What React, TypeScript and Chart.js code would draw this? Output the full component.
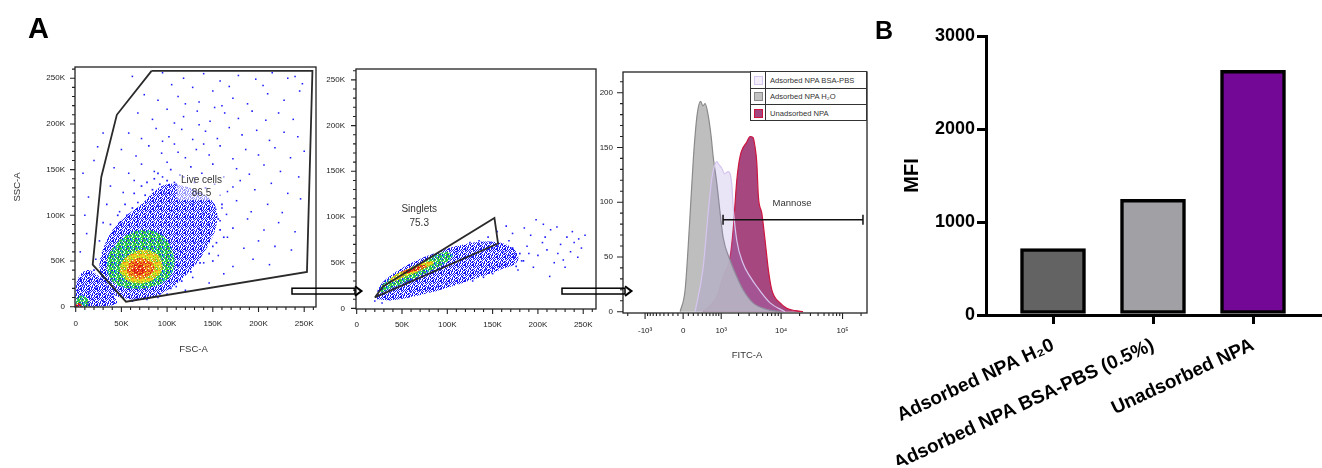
import React, { useEffect, useRef } from "react";
import { Chart, registerables } from "chart.js";

Chart.register(...registerables);

const PAGE_W = 1322;
const PAGE_H = 468;
const SANS = '"Liberation Sans", Arial, Helvetica, sans-serif';

// ---------------- A1: FSC-A vs SSC-A (values in thousands) ----------------
const liveGate = [[83, 258], [259, 258], [253, 38], [55, 5.5], [18.6, 46], [28, 142], [45, 210], [83, 258]];
const liveBlueZone = [[30, 18], [50, 10], [75, 8], [100, 18], [122, 36], [142, 62], [154, 90], [152, 112], [138, 124], [118, 132], [100, 134], [86, 126], [72, 112], [56, 100], [42, 86], [32, 68], [26, 46], [30, 18]];
const liveGreenZone = [[34, 40], [42, 26], [60, 20], [85, 22], [102, 32], [108, 48], [104, 66], [92, 80], [72, 84], [55, 78], [42, 66], [35, 54], [34, 40]];
const liveYellowZone = [[48, 38], [58, 28], [75, 26], [90, 34], [95, 46], [88, 58], [72, 62], [58, 56], [50, 48], [48, 38]];
const liveOrangeZone = [[56, 36], [66, 31], [80, 34], [86, 42], [80, 51], [68, 53], [58, 47], [56, 36]];
const liveRedZone = [[62, 38], [70, 35], [76, 39], [74, 45], [66, 46], [62, 42], [62, 38]];
const liveDebrisZone = [[0, 0], [25, 0], [45, 4], [40, 14], [32, 26], [22, 36], [12, 40], [3, 32], [0, 18], [0, 0]];
const liveDebrisGreen = [[0, 0], [12, 0], [14, 6], [8, 12], [2, 10], [0, 5], [0, 0]];
const liveDebrisRed = [[0, 0], [6, 0], [6, 3], [2, 4], [0, 2], [0, 0]];
const liveDense = [[28, 30], [33, 48], [36, 66], [42, 82], [48, 92], [56, 100], [62, 108], [68, 114], [76, 122], [84, 128], [92, 134], [100, 138], [110, 134], [122, 130], [134, 124], [144, 118], [152, 108], [156, 96], [158, 84], [154, 70], [146, 58], [136, 48], [126, 38], [116, 28], [104, 20], [92, 14], [80, 10], [66, 8], [52, 10], [40, 14], [64, 124], [78, 136], [90, 146], [104, 150], [118, 142], [130, 136], [142, 130], [160, 112], [162, 76], [150, 50], [46, 100], [38, 90], [54, 112], [72, 132], [86, 140], [98, 124], [112, 118], [128, 112], [140, 102], [120, 90], [105, 105], [90, 110], [130, 70], [115, 60], [3, 3], [6, 12], [10, 5], [14, 16], [18, 8], [22, 20], [26, 14], [30, 6], [34, 22], [8, 24], [16, 30], [24, 28], [38, 12], [42, 4], [2, 18], [12, 36], [20, 40], [28, 38], [5, 30], [110, 80], [125, 98], [135, 85], [98, 92], [82, 104], [68, 94], [145, 90], [112, 45], [95, 70], [50, 90]];
const liveSparse = [[62, 252], [95, 256], [118, 250], [140, 255], [158, 247], [178, 253], [197, 249], [215, 256], [232, 250], [248, 244], [105, 243], [128, 240], [168, 241], [205, 242], [240, 252], [75, 232], [90, 226], [112, 230], [135, 224], [150, 236], [172, 228], [188, 222], [210, 233], [228, 226], [245, 236], [120, 222], [160, 220], [68, 212], [84, 205], [100, 216], [118, 208], [133, 214], [147, 203], [163, 212], [178, 206], [193, 214], [208, 204], [222, 212], [238, 205], [108, 201], [152, 218], [58, 190], [72, 184], [88, 195], [102, 186], [116, 194], [128, 183], [142, 192], [155, 184], [168, 196], [182, 188], [198, 193], [212, 182], [228, 191], [243, 186], [95, 181], [135, 199], [50, 172], [66, 165], [80, 176], [94, 168], [108, 178], [120, 163], [132, 172], [146, 166], [158, 176], [172, 162], [186, 172], [200, 166], [218, 174], [235, 163], [250, 170], [112, 169], [140, 178], [42, 152], [58, 146], [72, 156], [86, 148], [100, 158], [114, 144], [126, 153], [138, 146], [150, 156], [162, 142], [176, 151], [190, 145], [206, 155], [224, 148], [244, 142], [130, 141], [95, 142], [38, 132], [52, 125], [64, 138], [108, 136], [152, 134], [166, 126], [180, 138], [196, 128], [214, 135], [232, 124], [158, 122], [172, 131], [34, 112], [48, 104], [160, 108], [176, 116], [192, 104], [210, 112], [226, 103], [246, 118], [165, 101], [30, 92], [45, 86], [158, 94], [172, 86], [188, 96], [206, 84], [222, 92], [240, 82], [26, 72], [150, 66], [166, 76], [184, 64], [200, 72], [218, 66], [236, 62], [22, 52], [140, 48], [156, 56], [172, 44], [194, 52], [212, 46], [128, 32], [146, 26], [162, 36], [110, 22], [120, 18], [90, 10], [100, 14], [78, 8], [62, 6], [8, 146], [14, 120], [10, 100], [20, 160], [24, 175], [30, 190], [5, 60], [12, 80]];

// ---------------- A2: Singlets (values in thousands) ----------------
const singletGate = [[20, 12], [29, 24], [152, 99], [156, 71], [20, 12]];
const singletBlueZone = [[22, 10], [40, 9], [80, 17], [120, 29], [158, 42], [178, 52], [172, 66], [150, 73], [118, 70], [85, 60], [55, 47], [35, 34], [24, 22], [22, 10]];
const singletGreenZone = [[27, 17], [45, 25], [70, 36], [95, 48], [106, 57], [98, 62], [72, 50], [46, 38], [31, 28], [26, 22], [27, 17]];
const singletYellowZone = [[40, 29], [60, 37], [80, 46], [86, 51], [76, 51], [56, 43], [40, 35], [37, 31], [40, 29]];
const singletRedZone = [[50, 37], [65, 41], [77, 45], [74, 47.5], [62, 44.5], [50, 40], [50, 37]];
const singletDense = [[24, 14], [30, 16], [36, 19], [42, 22], [48, 25], [54, 28], [60, 31], [66, 33], [72, 36], [78, 38], [84, 41], [90, 43], [96, 46], [102, 48], [108, 50], [114, 53], [120, 55], [126, 57], [132, 60], [138, 62], [144, 64], [150, 66], [156, 68], [162, 62], [168, 58], [174, 56], [166, 48], [158, 46], [150, 44], [142, 42], [134, 40], [126, 36], [118, 33], [110, 30], [100, 27], [90, 24], [80, 22], [70, 20], [60, 18], [120, 65], [110, 62], [100, 58], [90, 54], [80, 50], [70, 46], [60, 40], [50, 36], [40, 30], [30, 24], [135, 70], [148, 72], [160, 70], [172, 66], [180, 60], [184, 52], [176, 46]];
const singletSparse = [[160, 48], [168, 74], [175, 60], [182, 52], [188, 68], [192, 80], [198, 97], [200, 58], [205, 72], [210, 64], [214, 86], [218, 50], [221, 89], [225, 70], [228, 53], [232, 78], [236, 62], [240, 72], [244, 56], [248, 66], [252, 80], [213, 35], [195, 45], [185, 88], [172, 82], [165, 90], [178, 42], [206, 92], [238, 84], [230, 45], [145, 78], [135, 74], [125, 72], [150, 38], [140, 34], [128, 30], [20, 8], [28, 6], [35, 10], [155, 84], [245, 76], [222, 60], [208, 78], [190, 60], [170, 66]];

const kTicks = [0, 50, 100, 150, 200, 250];
const kTickLabels = ["0", "50K", "100K", "150K", "200K", "250K"];
const kMinorTicks = [10, 20, 30, 40, 60, 70, 80, 90, 110, 120, 130, 140, 160, 170, 180, 190, 210, 220, 230, 240, 260];

// ---------------- A3: FITC-A histograms ([FITC value, count]) ----------------
const fitcBSA = [[237, 0], [418, 40], [551, 90], [660, 122], [736, 132], [829, 137], [915, 134], [1025, 131], [1150, 126], [1327, 128], [1539, 116], [1622, 96], [1869, 65], [2384, 44], [3111, 32], [4010, 23], [6615, 8], [11613, 0]];
const fitcH2O = [[-57, 0], [38, 20], [121, 78], [202, 141], [280, 180], [360, 192], [411, 188], [469, 190], [559, 178], [639, 160], [702, 142], [829, 117], [956, 90], [1082, 68], [1437, 47], [1869, 32], [2384, 20], [3490, 8], [5911, 2], [9634, 0]];
const fitcUnadsorbed = [[418, 0], [829, 14], [1082, 32], [1437, 50], [1622, 75], [1869, 120], [2127, 142], [2744, 155], [3111, 160], [3490, 159], [3764, 150], [4010, 136], [4261, 105], [4843, 90], [5483, 65], [6207, 38], [7052, 20], [9634, 8], [12378, 3], [16881, 1], [22790, 0]];
const histLabels = ["Adsorbed NPA BSA-PBS", "Adsorbed NPA H₂O", "Unadsorbed NPA"];
const histFills = ["rgba(160,130,220,0.22)", "rgba(188,188,188,0.97)", "rgba(145,25,95,0.8)"];
const histStrokes = ["#d6c6ef", "#8a8a8a", "#cc1640"];
const histSwatches = ["#f4effb", "#c2c2c2", "#a3457f"];

const fitcMajor = [-1000, 0, 1000, 10000, 100000];
const fitcTickLabels = ["-10³", "0", "10³", "10⁴", "10⁵"];
const fitcMinor = [-2000, -900, -800, -700, -600, -500, -400, -300, -200, -100, 100, 200, 300, 400, 500, 600, 700, 800, 900, 2000, 3000, 4000, 5000, 6000, 7000, 8000, 9000, 20000, 30000, 40000, 50000, 60000, 70000, 80000, 90000, 200000];
const countTicks = [0, 50, 100, 150, 200];
const countMinor = [10, 20, 30, 40, 60, 70, 80, 90, 110, 120, 130, 140, 160, 170, 180, 190, 210];
const mannoseGate = [1080, 215000];
const mannoseLevel = 84;

// ---------------- B: MFI bar chart ----------------
const barCategories = ["Adsorbed NPA H₂0", "Adsorbed NPA BSA-PBS (0.5%)", "Unadsorbed NPA"];
const barValues = [715, 1245, 2630];
const barColors = ["#636363", "#a1a1a5", "#740896"];
const mfiTicks = [0, 1000, 2000, 3000];

// biexponential-like display transform for the FITC axis
const BIEX_W = 510;
const T = (v: number) => Math.asinh(v / BIEX_W) / Math.LN10;

// ---- speckle texture (style only): fill order of the cells of an 8x8 tile ----
const TILE_ORDER = [0, 37, 18, 55, 9, 46, 27, 60, 13, 50, 3, 40, 22, 59, 31, 6, 44, 15, 52, 25, 62, 11, 34, 57, 20, 41, 1, 48, 29, 8, 38, 17, 54, 26, 63, 12, 45, 4, 33, 58, 21, 42, 7, 51, 30, 16, 39, 61, 24, 2, 47, 14, 56, 35, 10, 43, 28, 5, 53, 19, 36, 49, 23, 32];

function speckle(ctx: CanvasRenderingContext2D, colors: string[], count: number): any {
  const tile = document.createElement("canvas");
  tile.width = 8;
  tile.height = 8;
  const g = tile.getContext("2d") as CanvasRenderingContext2D;
  TILE_ORDER.slice(0, count).forEach((cell, i) => {
    g.fillStyle = colors[i % colors.length];
    g.fillRect(cell % 8, Math.floor(cell / 8), 1, 1);
  });
  return ctx.createPattern(tile, "repeat");
}

function palette(ctx: CanvasRenderingContext2D) {
  return {
    blue: speckle(ctx, ["#1414ff", "#2828ff", "#1010e8"], 32),
    green: speckle(ctx, ["#22c040", "#20c8c8", "#3ad030", "#1a1aff", "#28c060", "#60d838"], 54),
    yellow: speckle(ctx, ["#e6e020", "#66d030", "#f0d018", "#f09020", "#d8e828"], 60),
    orange: speckle(ctx, ["#f08020", "#ecd020", "#f06818", "#e02020"], 60),
    red: speckle(ctx, ["#e01818", "#f06020", "#d81010"], 44),
  };
}

const K = (arr: number[][]) => arr.map(([x, y]) => ({ x: x * 1000, y: y * 1000 }));

const zoneDs = (arr: number[][], color: any, order: number) => ({
  data: K(arr), showLine: true, fill: "shape", backgroundColor: color,
  borderColor: "rgba(0,0,0,0)", borderWidth: 0, pointRadius: 0, tension: 0.4, order,
});
const dotDs = (arr: number[][], color: string, r: number, order: number) => ({
  data: K(arr), showLine: false, pointStyle: "rect", pointRadius: r,
  pointBackgroundColor: color, backgroundColor: color, borderColor: color, pointBorderWidth: 0, order,
});
const gateDs = (arr: number[][]) => ({
  data: K(arr), showLine: true, fill: false, borderColor: "#2a2a2a", borderWidth: 1.8,
  pointRadius: 0, tension: 0, order: 0,
});

const DOT = "#1c1cff";

function flowAxis(axis: "x" | "y", min: number, max: number, majors: number[], labels: string[], pad: number) {
  return {
    type: "linear", min, max,
    afterBuildTicks: (s: any) => { s.ticks = majors.map((v) => ({ value: v })); },
    afterFit: (s: any) => { if (axis === "x") s.height = 30; else s.width = 40; },
    grid: { display: false, drawTicks: false },
    border: { display: false },
    ticks: {
      autoSkip: false, maxRotation: 0, minRotation: 0, padding: pad, color: "#222",
      font: { family: SANS, size: 8 },
      callback: (_v: any, i: number) => labels[i],
    },
  };
}

function framePlugin(xMaj: number[], xMin: number[], yMaj: number[], yMin: number[], majLen: number, minLen: number) {
  return {
    id: "flowFrame",
    afterDatasetsDraw(chart: any) {
      const { ctx, chartArea: a, scales } = chart;
      ctx.save();
      ctx.strokeStyle = "#222";
      ctx.lineWidth = 1.3;
      ctx.strokeRect(a.left, a.top, a.right - a.left, a.bottom - a.top);
      ctx.lineWidth = 1.1;
      ctx.beginPath();
      const xt = (vals: number[], len: number) => vals.forEach((v) => {
        const p = scales.x.getPixelForValue(v);
        if (p < a.left - 0.5 || p > a.right + 0.5) return;
        ctx.moveTo(p, a.bottom); ctx.lineTo(p, a.bottom + len);
      });
      const yt = (vals: number[], len: number) => vals.forEach((v) => {
        const p = scales.y.getPixelForValue(v);
        if (p < a.top - 0.5 || p > a.bottom + 0.5) return;
        ctx.moveTo(a.left, p); ctx.lineTo(a.left - len, p);
      });
      xt(xMaj, majLen); xt(xMin, minLen); yt(yMaj, majLen); yt(yMin, minLen);
      ctx.stroke();
      ctx.restore();
    },
  };
}

type TextItem = { text: string; x: number; y: number; size: number; rot?: number; bg?: number[] };
function textPlugin(build: (chart: any) => TextItem[]) {
  return {
    id: "flowText",
    afterDraw(chart: any) {
      const ctx = chart.ctx;
      build(chart).forEach((it) => {
        ctx.save();
        if (it.bg) {
          ctx.fillStyle = "rgba(255,255,255,0.55)";
          ctx.fillRect(it.bg[0], it.bg[1], it.bg[2], it.bg[3]);
        }
        ctx.font = `${it.size}px ${SANS}`;
        ctx.fillStyle = "#333";
        ctx.textAlign = "center";
        ctx.textBaseline = "middle";
        ctx.translate(it.x, it.y);
        if (it.rot) ctx.rotate(it.rot);
        ctx.fillText(it.text, 0, 0);
        ctx.restore();
      });
    },
  };
}

const baseOptions = {
  animation: false, responsive: false, maintainAspectRatio: false, events: [],
  plugins: { legend: { display: false }, tooltip: { enabled: false } },
};

const kMaj = kTicks.map((k) => k * 1000);
const kMin = kMinorTicks.map((k) => k * 1000);

function liveConfig(ctx: CanvasRenderingContext2D): any {
  const p = palette(ctx);
  return {
    type: "line",
    data: {
      datasets: [
        gateDs(liveGate),
        dotDs(liveSparse, DOT, 1.1, 2),
        zoneDs(liveRedZone, p.red, 4),
        zoneDs(liveDebrisRed, p.red, 4),
        zoneDs(liveOrangeZone, p.orange, 5),
        zoneDs(liveYellowZone, p.yellow, 6),
        zoneDs(liveGreenZone, p.green, 7),
        zoneDs(liveDebrisGreen, p.green, 7),
        dotDs(liveDense, DOT, 1.2, 8),
        zoneDs(liveBlueZone, p.blue, 9),
        zoneDs(liveDebrisZone, p.blue, 9),
      ],
    },
    options: {
      ...baseOptions,
      layout: { padding: { left: 35, top: 67, right: 1006, bottom: 131 } },
      scales: {
        x: flowAxis("x", -770, 262900, kMaj, kTickLabels, 12),
        y: flowAxis("y", -330, 262300, kMaj, kTickLabels, 10),
      },
    },
    plugins: [
      framePlugin(kMaj, kMin, kMaj, kMin, 5, 3),
      textPlugin((c) => {
        const a = c.chartArea, x = c.scales.x, y = c.scales.y;
        const lx = x.getPixelForValue(137600);
        return [
          { text: "Live cells", x: lx, y: y.getPixelForValue(138600), size: 10, bg: [lx - 25, y.getPixelForValue(145000), 50, 26] },
          { text: "86.5", x: lx, y: y.getPixelForValue(123900), size: 10 },
          { text: "FSC-A", x: (a.left + a.right) / 2 - 2, y: a.bottom + 42, size: 9.5 },
          { text: "SSC-A", x: a.left - 58, y: (a.top + a.bottom) / 2, size: 9.5, rot: -Math.PI / 2 },
        ];
      }),
    ],
  };
}

function singletConfig(ctx: CanvasRenderingContext2D): any {
  const p = palette(ctx);
  return {
    type: "line",
    data: {
      datasets: [
        gateDs(singletGate),
        dotDs(singletSparse, DOT, 1.1, 2),
        zoneDs(singletRedZone, p.red, 4),
        zoneDs(singletYellowZone, p.yellow, 6),
        zoneDs(singletGreenZone, p.green, 7),
        dotDs(singletDense, DOT, 1.2, 8),
        zoneDs(singletBlueZone, p.blue, 9),
      ],
    },
    options: {
      ...baseOptions,
      layout: { padding: { left: 316, top: 69, right: 726, bottom: 129 } },
      scales: {
        x: flowAxis("x", -770, 264100, kMaj, kTickLabels, 11),
        y: flowAxis("y", -660, 261900, kMaj, kTickLabels, 11),
      },
    },
    plugins: [
      framePlugin(kMaj, kMin, kMaj, kMin, 5, 3),
      textPlugin((c) => {
        const x = c.scales.x, y = c.scales.y;
        return [
          { text: "Singlets", x: x.getPixelForValue(69000), y: y.getPixelForValue(108400), size: 10 },
          { text: "75.3", x: x.getPixelForValue(69000), y: y.getPixelForValue(93100), size: 10 },
        ];
      }),
    ],
  };
}

function histConfig(): any {
  const series = [fitcBSA, fitcH2O, fitcUnadsorbed];
  const xMaj = fitcMajor.map(T);
  const xMin = fitcMinor.map(T);
  return {
    type: "line",
    data: {
      datasets: series.map((s, i) => ({
        label: histLabels[i],
        data: s.map(([v, c]) => ({ x: T(v), y: c })),
        fill: "origin",
        backgroundColor: histFills[i],
        borderColor: histStrokes[i],
        borderWidth: 1.2,
        pointRadius: 0,
        cubicInterpolationMode: "monotone",
        order: i,
      })),
    },
    options: {
      ...baseOptions,
      layout: { padding: { left: 583, top: 72, right: 455, bottom: 125 } },
      scales: {
        x: flowAxis("x", T(-2400), T(250000), xMaj, fitcTickLabels, 13),
        y: flowAxis("y", -1.2, 218.9, countTicks, countTicks.map(String), 10),
      },
    },
    plugins: [
      framePlugin(xMaj, xMin, countTicks, countMinor, 6, 3),
      {
        id: "mannose",
        afterDatasetsDraw(chart: any) {
          const { ctx, scales } = chart;
          const x1 = scales.x.getPixelForValue(T(mannoseGate[0]));
          const x2 = scales.x.getPixelForValue(T(mannoseGate[1]));
          const yy = scales.y.getPixelForValue(mannoseLevel);
          ctx.save();
          ctx.strokeStyle = "#111";
          ctx.lineWidth = 1.5;
          ctx.beginPath();
          ctx.moveTo(x1, yy); ctx.lineTo(x2, yy);
          ctx.moveTo(x1, yy - 5); ctx.lineTo(x1, yy + 5);
          ctx.moveTo(x2, yy - 5); ctx.lineTo(x2, yy + 5);
          ctx.stroke();
          ctx.restore();
        },
      },
      textPlugin((c) => {
        const a = c.chartArea, x = c.scales.x, y = c.scales.y;
        return [
          { text: "Mannose", x: x.getPixelForValue(T(15100)), y: y.getPixelForValue(99), size: 9.5 },
          { text: "FITC-A", x: (a.left + a.right) / 2 + 2, y: a.bottom + 42, size: 9.5 },
        ];
      }),
    ],
  };
}

function barConfig(): any {
  const axisGrid = { display: true, drawOnChartArea: false, drawTicks: true, tickLength: 9, tickWidth: 3, lineWidth: 3, color: "#000", tickColor: "#000", offset: false };
  return {
    type: "bar",
    data: {
      datasets: [{
        data: barValues.map((v, i) => ({ x: i + 1, y: v })),
        backgroundColor: barColors,
        borderColor: "#000",
        borderWidth: 3.5,
        borderSkipped: false,
        barThickness: 65,
      }],
    },
    options: {
      ...baseOptions,
      layout: { padding: { left: 900, top: 36, right: 0, bottom: 3 } },
      scales: {
        x: {
          type: "linear", min: 0.33, max: 3.69, offset: false,
          afterBuildTicks: (s: any) => { s.ticks = barCategories.map((_c, i) => ({ value: i + 1 })); },
          afterFit: (s: any) => { s.height = 150; },
          grid: axisGrid,
          border: { display: true, width: 3, color: "#000" },
          ticks: {
            autoSkip: false, minRotation: 25, maxRotation: 25, padding: 10, color: "#000",
            font: { family: SANS, size: 19, weight: "bold" },
            callback: (v: any) => barCategories[Math.round(v) - 1],
          },
        },
        y: {
          type: "linear", min: 0, max: 3000,
          afterBuildTicks: (s: any) => { s.ticks = mfiTicks.map((v) => ({ value: v })); },
          afterFit: (s: any) => { s.width = 86; },
          grid: axisGrid,
          border: { display: true, width: 3, color: "#000" },
          ticks: { padding: 2, color: "#000", font: { family: SANS, size: 18, weight: "bold" }, callback: (v: any) => String(v) },
          title: { display: true, text: "MFI", color: "#000", padding: 0, font: { family: SANS, size: 20, weight: "bold" } },
        },
      },
    },
  };
}

function Arrow({ x }: { x: number }) {
  return (
    <g fill="none" stroke="#000" strokeWidth={1.5}>
      <rect x={x} y={288.2} width={63} height={5.8} />
      <polyline points={`${x + 63},286.3 ${x + 69.5},291.1 ${x + 63},295.9`} strokeWidth={2} />
    </g>
  );
}

export default function App() {
  const r1 = useRef<HTMLCanvasElement>(null);
  const r2 = useRef<HTMLCanvasElement>(null);
  const r3 = useRef<HTMLCanvasElement>(null);
  const r4 = useRef<HTMLCanvasElement>(null);

  useEffect(() => {
    const c1 = r1.current as HTMLCanvasElement;
    const c2 = r2.current as HTMLCanvasElement;
    const charts = [
      new Chart(c1, liveConfig(c1.getContext("2d") as CanvasRenderingContext2D)),
      new Chart(c2, singletConfig(c2.getContext("2d") as CanvasRenderingContext2D)),
      new Chart(r3.current as HTMLCanvasElement, histConfig()),
      new Chart(r4.current as HTMLCanvasElement, barConfig()),
    ];
    return () => charts.forEach((c) => c.destroy());
  }, []);

  const rowH = 50 / 3;
  return (
    <div style={{ position: "absolute", left: 0, top: 0, width: PAGE_W, height: PAGE_H, background: "#fff", overflow: "hidden" }}>
      {[r1, r2, r3, r4].map((r, i) => (
        <canvas key={i} ref={r} width={PAGE_W} height={PAGE_H} style={{ position: "absolute", left: 0, top: 0 }} />
      ))}
      <svg width={PAGE_W} height={PAGE_H} style={{ position: "absolute", left: 0, top: 0, pointerEvents: "none" }}>
        <Arrow x={292} />
        <Arrow x={562} />
      </svg>
      <div style={{ position: "absolute", left: 750, top: 71, width: 117, height: 50, border: "1px solid #333", boxSizing: "border-box", background: "#fff", fontFamily: SANS, fontSize: 7.6, color: "#333" }}>
        {histLabels.map((lab, i) => (
          <div key={i} style={{ position: "absolute", left: 0, top: i * rowH - (i ? 1 : 0), width: "100%", height: rowH, borderTop: i ? "1px solid #333" : "none", boxSizing: "border-box", display: "flex", alignItems: "center" }}>
            <div style={{ width: 15, height: "100%", borderRight: "1px solid #333", boxSizing: "border-box", display: "flex", alignItems: "center", justifyContent: "center" }}>
              <div style={{ width: 9, height: 9, background: histSwatches[i], border: `1.5px solid ${histStrokes[i]}`, boxSizing: "border-box" }} />
            </div>
            <span style={{ marginLeft: 4, whiteSpace: "nowrap" }}>{lab}</span>
          </div>
        ))}
      </div>
      <div style={{ position: "absolute", left: 28, top: 14, fontFamily: SANS, fontWeight: "bold", fontSize: 29, lineHeight: 1, color: "#000" }}>A</div>
      <div style={{ position: "absolute", left: 875, top: 18, fontFamily: SANS, fontWeight: "bold", fontSize: 25, lineHeight: 1, color: "#000" }}>B</div>
    </div>
  );
}
